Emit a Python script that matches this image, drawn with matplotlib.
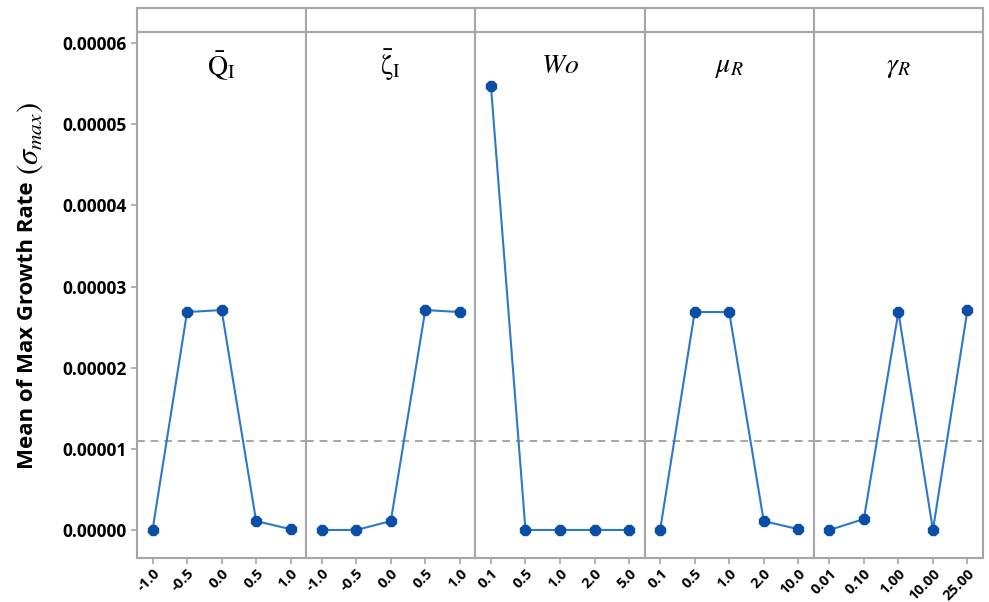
import numpy as np
import matplotlib
matplotlib.use("Agg")
import matplotlib.pyplot as plt

plt.rcParams['font.family'] = ['Open Sans', 'DejaVu Sans']
plt.rcParams['mathtext.fontset'] = 'stix'

# factor names (panel titles) and their levels
factors = [r"$\bar{\mathrm{Q}}_{\mathrm{I}}$", r"$\bar{\mathrm{\zeta}}_{\mathrm{I}}$",
           r"$Wo$", r"$\mu_R$", r"$\gamma_R$"]
levels_q = ["-1.0", "-0.5", "0.0", "0.5", "1.0"]
levels_zeta = ["-1.0", "-0.5", "0.0", "0.5", "1.0"]
levels_wo = ["0.1", "0.5", "1.0", "2.0", "5.0"]
levels_mu = ["0.1", "0.5", "1.0", "2.0", "10.0"]
levels_gamma = ["0.01", "0.10", "1.00", "10.00", "25.00"]

# mean of max growth rate for each level
mean_q = [0.00000, 0.00002685, 0.0000271, 0.0000011, 0.0000001]
mean_zeta = [0.00000, 0.00000, 0.0000011, 0.0000271, 0.00002685]
mean_wo = [0.0000547, 0.00000, 0.00000, 0.00000, 0.00000]
mean_mu = [0.00000, 0.00002685, 0.00002685, 0.0000011, 0.0000001]
mean_gamma = [0.00000, 0.00000135, 0.00002685, 0.00000, 0.0000271]

levels = [levels_q, levels_zeta, levels_wo, levels_mu, levels_gamma]
means = [mean_q, mean_zeta, mean_wo, mean_mu, mean_gamma]
grand_mean = np.mean(np.concatenate(means))

EDGE = "#a6a6a6"
LINE = "#2b78cc"
MARK = "#0a4ea6"

fig = plt.figure(figsize=(9.89, 6.02), dpi=100)
left, right = 137 / 989, 983 / 989
bottom, top = 1 - 558 / 602, 1 - 8 / 602
width = (right - left) / 5

# y scale: 0 at px 530, 6e-5 at px 43
px_per = (530 - 43) / 0.00006
ymin = -(558 - 530) / px_per
ymax = (530 - 8) / px_per
yheader = (530 - 32) / px_per

for i in range(5):
    ax = fig.add_axes([left + i * width, bottom, width, top - bottom])
    x = np.arange(len(levels[i]))
    ax.axhline(grand_mean, color=EDGE, ls=(0, (4, 3)), lw=1.4, zorder=1)
    ax.plot(x, means[i], color=LINE, lw=1.5, zorder=2)
    ax.plot(x, means[i], ls="none", marker="8", ms=8.5, color=MARK, zorder=3)
    ax.axhline(yheader, color=EDGE, lw=1.5)
    ax.set_xlim(-0.45, 4.45)
    ax.set_ylim(ymin, ymax)
    ax.set_xticks(x)
    ax.set_xticklabels(levels[i], rotation=45, ha="right", rotation_mode="anchor",
                       fontsize=10.5, fontweight="bold")
    ax.tick_params(axis="x", length=4, color=EDGE, width=1.2, pad=2)
    for s in ax.spines.values():
        s.set_color(EDGE)
        s.set_linewidth(1.5)
    ax.text(0.5, 0.895, factors[i], transform=ax.transAxes, ha="center",
            va="center", fontsize=20)
    if i == 0:
        ax.set_yticks([0, 0.00001, 0.00002, 0.00003, 0.00004, 0.00005, 0.00006])
        ax.set_yticklabels(["0.00000", "0.00001", "0.00002", "0.00003", "0.00004",
                            "0.00005", "0.00006"], fontsize=12.5, fontweight="bold")
        ax.tick_params(axis="y", length=4, color=EDGE, width=1.2)
    else:
        ax.set_yticks([])

# y axis label: bold text plus larger math part
fig.text(28 / 989, 1 - 325 / 602, "Mean of Max Growth Rate", rotation=90,
         ha="center", va="center", fontsize=16, fontweight="bold")
fig.text(30 / 989, 1 - 138 / 602, r"$(\sigma_{max})$", rotation=90,
         ha="center", va="center", fontsize=22)

fig.savefig("out.png", dpi=100)
